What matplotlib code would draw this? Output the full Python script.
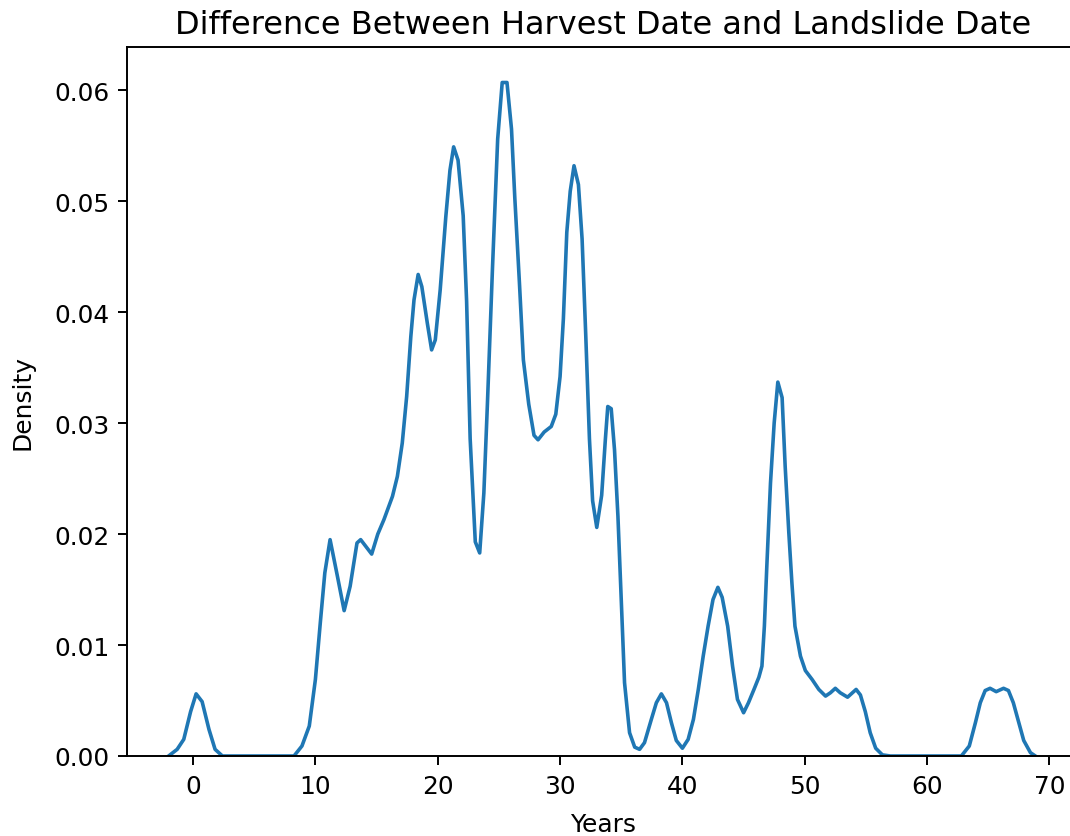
import matplotlib.pyplot as plt

# density curve (years, density)
years = [-2.0, -1.3, -0.76, -0.2, 0.25, 0.74, 1.3, 1.8, 2.4, 5.0, 8.25, 8.9, 9.5, 10.0,
         10.4, 10.77, 11.2, 11.8, 12.35, 12.84, 13.4, 13.7, 14.6, 15.1, 15.6, 16.3,
         16.7, 17.1, 17.46, 17.8, 18.06, 18.4, 18.7, 19.15, 19.5, 19.8, 20.2, 20.66,
         21.0, 21.3, 21.66, 22.08, 22.36, 22.65, 22.93, 23.07, 23.43, 23.77, 24.06,
         24.48, 24.9, 25.27, 25.66, 26.03, 26.3, 26.68, 27.0, 27.44, 27.87, 28.2,
         28.7, 29.28, 29.65, 30.0, 30.27, 30.55, 30.83, 31.14, 31.5, 31.8, 32.1,
         32.4, 32.66, 33.0, 33.4, 33.7, 33.9, 34.18, 34.45, 34.73, 35.0, 35.27,
         35.68, 36.1, 36.5, 36.9, 37.46, 37.87, 38.28, 38.7, 39.1, 39.5, 40.0,
         40.47, 40.9, 41.3, 41.7, 42.1, 42.5, 42.9, 43.25, 43.7, 44.1, 44.5, 45.0,
         45.4, 45.85, 46.25, 46.5, 46.7, 46.9, 47.2, 47.5, 47.8, 48.15, 48.4, 48.7,
         48.95, 49.2, 49.65, 50.05, 50.6, 51.15, 51.7, 52.1, 52.5, 52.9, 53.5, 54.2,
         54.55, 54.95, 55.35, 55.8, 56.35, 57.0, 62.8, 63.45, 63.95, 64.35, 64.75,
         65.15, 65.65, 66.25, 66.65, 67.05, 67.5, 67.9, 68.45, 68.85]
density = [0.0, 0.0006, 0.0015, 0.0040, 0.0056, 0.0049, 0.0024, 0.0006, 0.0, 0.0, 0.0,
           0.0009, 0.0027, 0.0069, 0.0120, 0.0165, 0.0195, 0.0162, 0.0131, 0.0153,
           0.0192, 0.0195, 0.0182, 0.0200, 0.0213, 0.0234, 0.0252, 0.0282, 0.0324,
           0.0378, 0.0411, 0.0434, 0.0423, 0.0390, 0.0366, 0.0375, 0.0420, 0.0486,
           0.0528, 0.0549, 0.0537, 0.0487, 0.0410, 0.0286, 0.0224, 0.0193, 0.0183,
           0.0237, 0.0317, 0.0441, 0.0556, 0.0607, 0.0607, 0.0565, 0.0503, 0.0426,
           0.0357, 0.0317, 0.0289, 0.0285, 0.0292, 0.0297, 0.0308, 0.0342, 0.0394,
           0.0472, 0.0509, 0.0532, 0.0515, 0.0466, 0.0379, 0.0286, 0.0230, 0.0206,
           0.0235, 0.0285, 0.0315, 0.0313, 0.0276, 0.0216, 0.0141, 0.0066, 0.0021,
           0.0008, 0.0006, 0.0012, 0.0033, 0.0048, 0.0056, 0.0048, 0.0030, 0.0014,
           0.0007, 0.0015, 0.0033, 0.0060, 0.0090, 0.0117, 0.0141, 0.0152, 0.0143,
           0.0117, 0.0081, 0.0051, 0.0039, 0.0048, 0.0060, 0.0071, 0.0081, 0.0117,
           0.0171, 0.0246, 0.0300, 0.0337, 0.0323, 0.0261, 0.0201, 0.0156, 0.0117,
           0.0090, 0.0077, 0.0069, 0.0060, 0.0054, 0.0057, 0.0061, 0.0057, 0.0053,
           0.0060, 0.0055, 0.0040, 0.0021, 0.0007, 0.0001, 0.0, 0.0, 0.0009, 0.0030,
           0.0048, 0.0059, 0.0061, 0.0058, 0.0061, 0.0059, 0.0048, 0.0030, 0.0014,
           0.0003, 0.0]

fs = 17.9

fig = plt.figure(figsize=(10.7, 8.37), dpi=100)
# the reference is cropped on the right, so the axes run past the figure edge
ax = fig.add_axes([127 / 1070, 80 / 837, 953 / 1070, 709 / 837])

ax.plot(years, density, color='#1f77b4', linewidth=2.6)

ax.set_xlim(-5.4, 72.5)
ax.set_ylim(0, 0.0639)
ax.set_xticks(range(0, 71, 10))
ax.set_yticks([0.0, 0.01, 0.02, 0.03, 0.04, 0.05, 0.06])
ax.set_yticklabels(['0.00', '0.01', '0.02', '0.03', '0.04', '0.05', '0.06'])
ax.tick_params(labelsize=fs, width=1.4, length=6.2, pad=6.5)
for s in ax.spines.values():
    s.set_linewidth(1.4)

ax.set_xlabel('Years', fontsize=fs, labelpad=10)
ax.set_ylabel('Density', fontsize=fs, labelpad=14)
ax.set_title('Difference Between Harvest Date and Landslide Date', fontsize=23, pad=10)

fig.savefig('out.png', dpi=100)
